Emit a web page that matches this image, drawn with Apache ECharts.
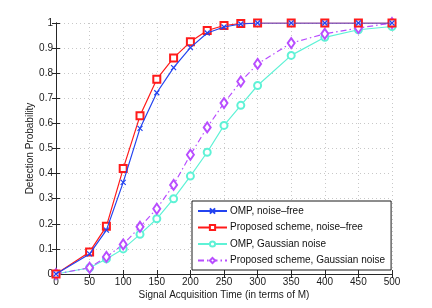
<!DOCTYPE html>
<html><head><meta charset="utf-8">
<script src="https://cdn.jsdelivr.net/npm/echarts@6/dist/echarts.min.js"></script>
<style>html,body{margin:0;padding:0;background:#fff}#c{width:432px;height:308px}</style>
</head><body><div id="c"></div>
<script>
var xValues = [0, 50, 75, 100, 125, 150, 175, 200, 225, 250, 275, 300, 350, 400, 450, 500];
var ompNoiseFree = [0, 0.08, 0.175, 0.365, 0.58, 0.722, 0.822, 0.902, 0.96, 0.984, 0.996, 1, 1, 1, 1, 1];
var propNoiseFree = [0, 0.088, 0.19, 0.42, 0.63, 0.776, 0.861, 0.925, 0.97, 0.99, 0.998, 1, 1, 1, 1, 1];
var ompGaussian = [0, 0.025, 0.06, 0.1, 0.158, 0.22, 0.3, 0.39, 0.485, 0.592, 0.672, 0.751, 0.871, 0.943, 0.973, 0.986];
var propGaussian = [0, 0.025, 0.068, 0.118, 0.188, 0.26, 0.355, 0.475, 0.584, 0.681, 0.767, 0.837, 0.92, 0.957, 0.98, 1.0];
var seriesNames = ['OMP, noise\u2013free', 'Proposed scheme, noise\u2013free', 'OMP, Gaussian noise', 'Proposed scheme, Gaussian noise'];

function pairs(ys){ return xValues.map(function(x,i){return [x, ys[i]];}); }
var FONT = 'Liberation Sans, Arial, Helvetica, sans-serif';
var gridStyle = {show:true, lineStyle:{color:'#c8c8c8', type:[1,3], width:1}};
var axLine = {show:true, lineStyle:{color:'#262626', width:1}};
var tick = {show:true, inside:true, length:4, lineStyle:{color:'#262626'}};
var lbl = {color:'#1a1a1a', fontSize:10, fontFamily:FONT};

var chart = echarts.init(document.getElementById('c'), null, {renderer:'canvas'});
chart.setOption({
  animation:false,
  backgroundColor:'#fff',
  grid:{left:56, right:40, top:23, bottom:34},
  legend:{
    orient:'vertical', left:192, top:201, width:189, z:10,
    backgroundColor:'#fff', borderColor:'#1a1a1a', borderWidth:1,
    padding:[5,6,4.5,5], itemGap:6.5, itemWidth:29, itemHeight:6.5,
    textStyle:{fontSize:10, fontFamily:FONT, color:'#111', padding:[0,0,0,-2]},
    data:seriesNames
  },
  xAxis:[{
    type:'value', min:0, max:500, interval:50, position:'bottom',
    name:'Signal Acquisition Time (in terms of M)', nameLocation:'middle', nameGap:16, nameMoveOverlap:false,
    nameTextStyle:{fontSize:10, fontFamily:FONT, color:'#1a1a1a'},
    axisLine:axLine, axisTick:tick, axisLabel:Object.assign({margin:3}, lbl), splitLine:gridStyle
  },{
    type:'value', min:0, max:500, interval:50, position:'top',
    axisLine:axLine, axisTick:tick, axisLabel:{show:false}, splitLine:{show:false}
  }],
  yAxis:[{
    type:'value', min:0, max:1, interval:0.1, position:'left',
    name:'Detection Probability', nameLocation:'middle', nameGap:26, nameMoveOverlap:false,
    nameTextStyle:{fontSize:10, fontFamily:FONT, color:'#1a1a1a', verticalAlign:'middle'},
    axisLine:axLine, axisTick:tick,
    axisLabel:Object.assign({margin:3, formatter:function(v){return String(Math.round(v*10)/10);}}, lbl),
    splitLine:gridStyle
  },{
    type:'value', min:0, max:1, interval:0.1, position:'right',
    axisLine:axLine, axisTick:tick, axisLabel:{show:false}, splitLine:{show:false}
  }],
  series:[
    {name:seriesNames[0], type:'line', data:pairs(ompNoiseFree), symbol:'path://M0,0L10,10M10,0L0,10', symbolSize:5,
     showAllSymbol:true, lineStyle:{color:'#2343f0', width:1.2},
     itemStyle:{color:'#2343f0', borderColor:'#2343f0', borderWidth:1.2}, z:4},
    {name:seriesNames[1], type:'line', data:pairs(propNoiseFree), symbol:'emptyRect', symbolSize:7,
     showAllSymbol:true, lineStyle:{color:'#ff1a1a', width:1.2},
     itemStyle:{color:'#ff1a1a', borderColor:'#ff1a1a', borderWidth:1.2}, z:3},
    {name:seriesNames[2], type:'line', data:pairs(ompGaussian), symbol:'emptyCircle', symbolSize:7,
     showAllSymbol:true, lineStyle:{color:'#5ef2d6', width:1.2},
     itemStyle:{color:'#5ef2d6', borderColor:'#5ef2d6', borderWidth:1.2}, z:2},
    {name:seriesNames[3], type:'line', data:pairs(propGaussian), symbol:'emptyDiamond', symbolSize:[7,10],
     showAllSymbol:true, lineStyle:{color:'#b84dff', width:1.2, type:[6,3,1.5,3]},
     itemStyle:{color:'#b84dff', borderColor:'#b84dff', borderWidth:1.2}, z:2}
  ]
});
</script></body></html>
